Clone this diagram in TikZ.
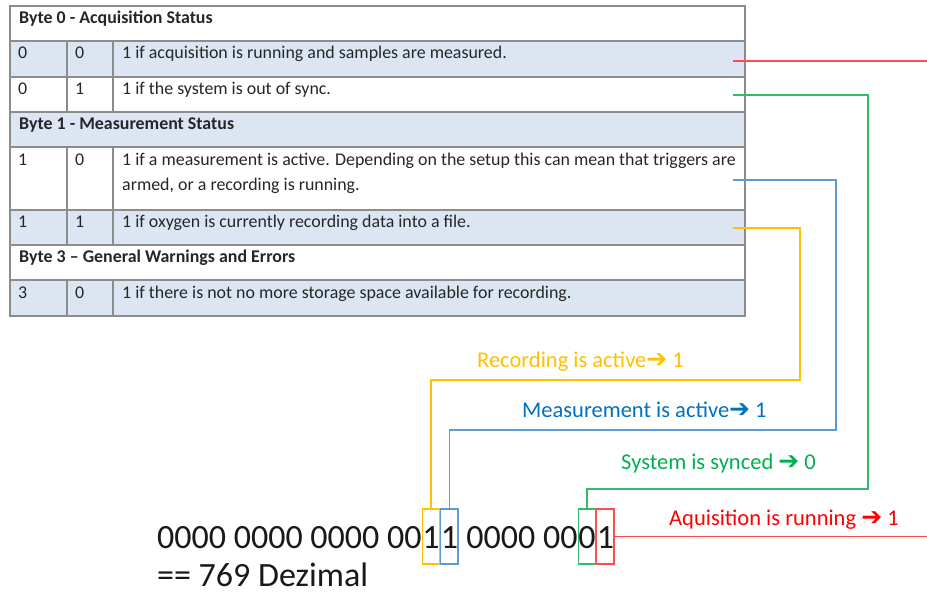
\documentclass[tikz,border=0pt]{standalone}
\usepackage{fontspec}
\setmainfont{Carlito}
\newfontfamily\arrowfont{DejaVu Sans}
\newcommand{\statarrow}{{\arrowfont\bfseries\fontsize{25}{24}\selectfont ➔}}
\definecolor{rowblue}{HTML}{DCE6F2}
\definecolor{rulegray}{HTML}{8C8C8C}
\definecolor{recyellow}{HTML}{FFC000}
\definecolor{measblue}{HTML}{0070C0}
\definecolor{measline}{HTML}{5B9BD5}
\definecolor{syncgreen}{HTML}{00B050}
\definecolor{syncline}{HTML}{33BB6A}
\definecolor{acqred}{HTML}{FF0000}
\definecolor{acqline}{HTML}{FF4B4B}

\begin{document}
\begin{tikzpicture}[x=1pt,y=-1pt,
  cell/.style={draw=rulegray,line width=1.1pt},
  txt/.style={anchor=base west,inner sep=0pt,font=\fontsize{17.9}{25}\selectfont,text=black!85},
  head/.style={txt,font=\fontsize{17.9}{25}\selectfont\bfseries},
  big/.style={anchor=base west,inner sep=0pt,font=\fontsize{34}{40}\selectfont,text=black!90},
  bit/.style={big,draw,line width=1.2pt,text height=39pt,text depth=16pt},
  lbl/.style={anchor=base west,inner sep=0pt,font=\fontsize{22.5}{24}\selectfont},
  wire/.style={line width=1.3pt}]

  \useasboundingbox (0,0) rectangle (927,594);

  % table rows and column rules
  \foreach \ya/\yb/\col in {6/41/white,41/77/rowblue,77/112/white,112/147/rowblue,
      147/210/white,210/245/rowblue,245/280/white,280/316/rowblue}
    \draw[cell,fill=\col] (10,\ya) rectangle (745,\yb);
  \foreach \ya/\yb in {41/77,77/112,147/210,210/245,280/316}
    \draw[cell] (67,\ya) -- (67,\yb) (113,\ya) -- (113,\yb);

  \node[head] (byte0) at (19,23.5) {Byte 0 - Acquisition Status};
  \node[txt] (b0a) at (18,59) {0};
  \node[txt] (b0b) at (75,59) {0};
  \node[txt] (b0c) at (122,59) {1 if acquisition is running and samples are measured.};
  \node[txt] (b1a) at (18,94.5) {0};
  \node[txt] (b1b) at (75,94.5) {1};
  \node[txt] (b1c) at (122,94.5) {1 if the system is out of sync.};
  \node[head] (byte1) at (19,129.5) {Byte 1 - Measurement Status};
  \node[txt] (m0a) at (18,165) {1};
  \node[txt] (m0b) at (75,165) {0};
  \node[txt] (m0c) at (122,165) {1 if a measurement is active. Depending on the setup this can mean that triggers are};
  \node[txt] (m0d) at (122,190) {armed, or a recording is running.};
  \node[txt] (m1a) at (18,227.5) {1};
  \node[txt] (m1b) at (75,227.5) {1};
  \node[txt] (m1c) at (122,227.5) {1 if oxygen is currently recording data into a file.};
  \node[head] (byte3) at (19,262.5) {Byte 3 – General Warnings and Errors};
  \node[txt] (w0a) at (18,298) {3};
  \node[txt] (w0b) at (75,298) {0};
  \node[txt] (w0c) at (122,298) {1 if there is not no more storage space available for recording.};

  % status word
  \node[big] (bin0) at (157,548) {0000 0000 0000 00};
  \node[bit,draw=recyellow] (bitY) at (bin0.base east) {1};
  \node[bit,draw=measline] (bitB) at (bitY.base east) {1};
  \node[big] (bin1) at (bitB.base east) {\ 0000 00};
  \node[bit,draw=syncline] (bitG) at (bin1.base east) {0};
  \node[bit,draw=acqline] (bitR) at (bitG.base east) {1};
  \node[big] (dec) at (157,586) {== 769 Dezimal};

  \node[lbl,text=recyellow] (recL) at (477,367) {Recording is active\statarrow\ 1};
  \node[lbl,text=measblue] (measL) at (522,417) {Measurement is active\statarrow\ 1};
  \node[lbl,text=syncgreen] (syncL) at (621,469) {System is synced \statarrow\ 0};
  \node[lbl,text=acqred] (acqL) at (669,525) {Aquisition is running \statarrow\ 1};

  \coordinate (acqS) at (733,61);
  \coordinate (acqE) at (927,61);
  \coordinate (acqO) at (927,536);
  \coordinate (syncS) at (733,95);
  \coordinate (syncK) at (868,489);
  \coordinate (measS) at (733,180);
  \coordinate (measK) at (836,430);
  \coordinate (recS) at (733,228);
  \coordinate (recK) at (800,380);

  \draw[wire,acqline] (acqS) -- (acqE);
  \draw[wire,acqline] (bitR.east) -- (bitR.east -| acqO);
  \draw[wire,syncline] (syncS) -| (syncK) -| (bitG.north);
  \draw[wire,measline] (measS) -| (measK) -| (bitB.north);
  \draw[wire,recyellow] (recS) -| (recK) -| (bitY.north);

\end{tikzpicture}
\end{document}
